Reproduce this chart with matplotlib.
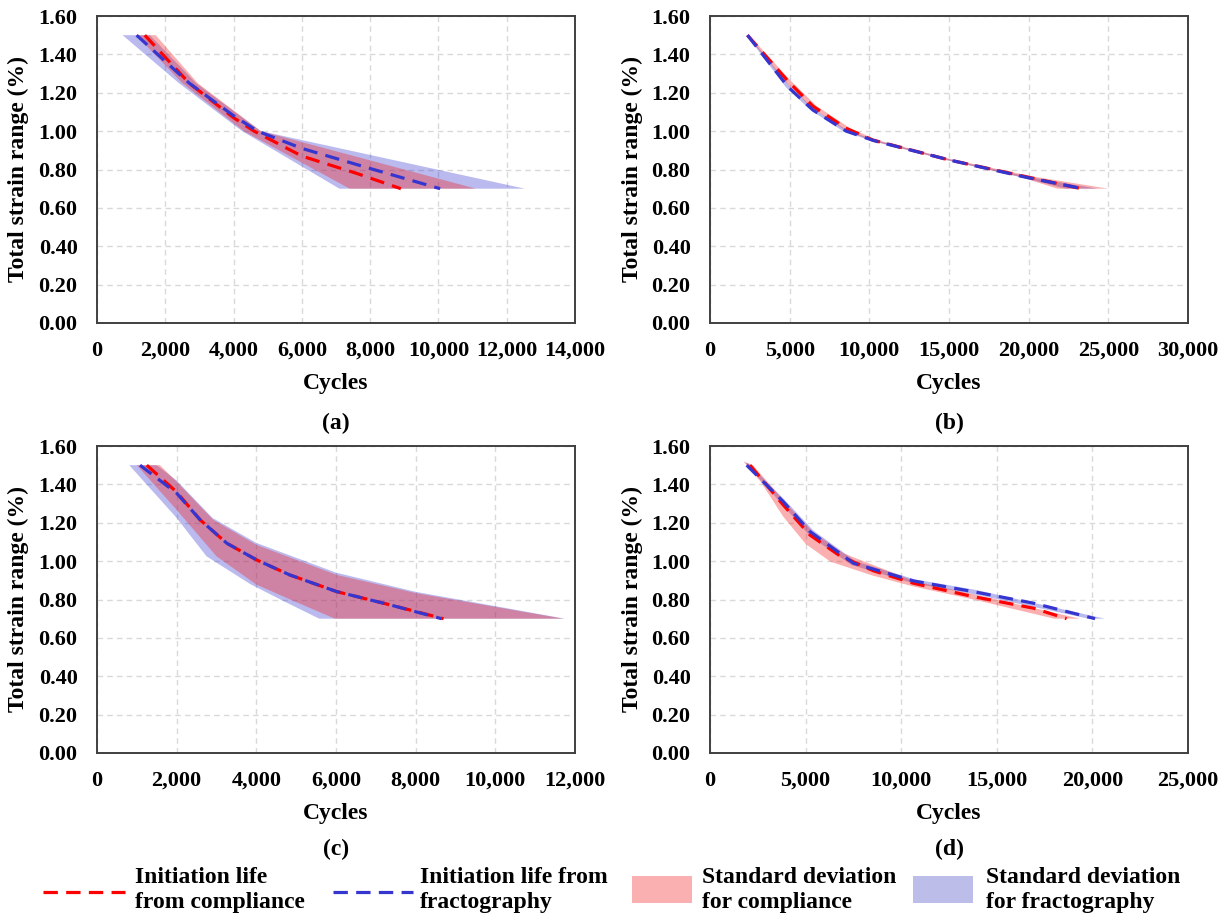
import matplotlib
matplotlib.use("Agg")
import matplotlib.pyplot as plt
import numpy as np
from matplotlib.ticker import FuncFormatter, MultipleLocator
from matplotlib.lines import Line2D
from matplotlib.patches import Rectangle

plt.rcParams["font.family"] = ["Liberation Serif", "DejaVu Serif"]
plt.rcParams["font.weight"] = "bold"

# ---------------- data: (cycles, total strain range %) ----------------
# (a)
A_RED_X = [1400, 2700, 4000, 4600, 6000, 7600, 8900]
A_RED_Y = [1.50, 1.25, 1.07, 1.00, 0.87, 0.78, 0.70]
A_BLUE_X = [1160, 2700, 4000, 4700, 6000, 8100, 10050]
A_BLUE_Y = [1.50, 1.25, 1.08, 1.00, 0.91, 0.80, 0.70]
A_PINK_LO_X = [1150, 2500, 4300, 7400]
A_PINK_LO_Y = [1.50, 1.25, 1.00, 0.70]
A_PINK_HI_X = [1720, 2950, 4800, 11100]
A_PINK_HI_Y = [1.50, 1.25, 1.00, 0.70]
A_LAV_LO_X = [750, 2400, 4250, 7100]
A_LAV_LO_Y = [1.50, 1.25, 1.00, 0.70]
A_LAV_HI_X = [1550, 2900, 4800, 12530]
A_LAV_HI_Y = [1.50, 1.25, 1.00, 0.70]

# (b)
B_RED_X = [2350, 4900, 6460, 8540, 10200, 15000, 19800, 23300]
B_RED_Y = [1.50, 1.26, 1.13, 1.015, 0.954, 0.85, 0.763, 0.70]
B_BLUE_X = [2350, 4900, 6460, 8540, 10300, 15000, 19800, 23400]
B_BLUE_Y = [1.50, 1.23, 1.11, 1.00, 0.95, 0.85, 0.76, 0.70]
B_PINK_LO_X = [2300, 4700, 6250, 8300, 10000, 14800, 19400, 21800]
B_PINK_LO_Y = [1.50, 1.26, 1.13, 1.015, 0.954, 0.85, 0.763, 0.70]
B_PINK_HI_X = [2450, 5100, 6700, 8800, 10450, 15300, 20300, 25000]
B_PINK_HI_Y = [1.50, 1.26, 1.13, 1.015, 0.954, 0.85, 0.763, 0.70]
B_LAV_LO_X = [2300, 4750, 6300, 8350, 10100, 14800, 19500, 22300]
B_LAV_LO_Y = [1.50, 1.23, 1.11, 1.00, 0.95, 0.85, 0.76, 0.70]
B_LAV_HI_X = [2400, 5050, 6600, 8700, 10500, 15200, 20100, 24300]
B_LAV_HI_Y = [1.50, 1.23, 1.11, 1.00, 0.95, 0.85, 0.76, 0.70]

# (c)
C_RED_X = [1250, 2000, 2590, 3260, 4010, 4840, 6020, 7360, 8700]
C_RED_Y = [1.50, 1.36, 1.215, 1.093, 1.006, 0.928, 0.841, 0.772, 0.70]
C_BLUE_X = [1080, 2000, 2590, 3260, 4010, 4840, 6020, 7360, 8650]
C_BLUE_Y = [1.50, 1.354, 1.215, 1.093, 1.006, 0.928, 0.841, 0.772, 0.70]
C_PINK_LO_X = [1000, 2000, 3000, 4000, 4850, 5970]
C_PINK_LO_Y = [1.50, 1.267, 1.025, 0.878, 0.80, 0.70]
C_PINK_HI_X = [1580, 2000, 2920, 4010, 6020, 8020, 11700]
C_PINK_HI_Y = [1.50, 1.414, 1.215, 1.084, 0.928, 0.833, 0.70]
C_LAV_LO_X = [810, 2000, 2750, 3850, 4700, 5580]
C_LAV_LO_Y = [1.50, 1.225, 1.025, 0.88, 0.79, 0.70]
C_LAV_HI_X = [1500, 2000, 2900, 4000, 6000, 8000, 11750]
C_LAV_HI_Y = [1.50, 1.42, 1.225, 1.095, 0.94, 0.84, 0.70]

# (d)
D_RED_X = [2090, 3830, 5230, 6800, 8540, 10630, 13770, 16910, 18650]
D_RED_Y = [1.50, 1.293, 1.136, 1.027, 0.95, 0.885, 0.815, 0.755, 0.70]
D_BLUE_X = [1920, 3830, 5230, 7500, 10630, 13770, 16910, 20140]
D_BLUE_Y = [1.50, 1.31, 1.154, 0.989, 0.897, 0.841, 0.781, 0.70]
D_PINK_LO_X = [1750, 2650, 3830, 5000, 6300, 8500, 10630, 14000, 18000]
D_PINK_LO_Y = [1.52, 1.414, 1.232, 1.09, 0.997, 0.925, 0.868, 0.795, 0.70]
D_PINK_HI_X = [1750, 2250, 3900, 5400, 7000, 10700, 13900, 19350]
D_PINK_HI_Y = [1.52, 1.50, 1.31, 1.15, 1.04, 0.895, 0.825, 0.70]
D_LAV_LO_X = [1850, 3830, 5230, 7400, 10600, 13700, 19800]
D_LAV_LO_Y = [1.51, 1.29, 1.13, 0.98, 0.885, 0.83, 0.70]
D_LAV_HI_X = [2000, 3900, 5400, 7600, 10700, 13900, 20650]
D_LAV_HI_Y = [1.51, 1.32, 1.16, 1.00, 0.905, 0.85, 0.70]

X_MAX = [14000, 30000, 12000, 25000]
X_STEP = [2000, 5000, 2000, 5000]
CAPTIONS = ["(a)", "(b)", "(c)", "(d)"]
Y_LABEL = "Total strain range (%)"
X_LABEL = "Cycles"
LEGEND_LABELS = ["Initiation life\nfrom compliance", "Initiation life from\nfractography",
                 "Standard deviation\nfor compliance", "Standard deviation\nfor fractography"]

panels = [
    (A_RED_X, A_RED_Y, A_BLUE_X, A_BLUE_Y, A_PINK_LO_X, A_PINK_LO_Y, A_PINK_HI_X, A_PINK_HI_Y,
     A_LAV_LO_X, A_LAV_LO_Y, A_LAV_HI_X, A_LAV_HI_Y),
    (B_RED_X, B_RED_Y, B_BLUE_X, B_BLUE_Y, B_PINK_LO_X, B_PINK_LO_Y, B_PINK_HI_X, B_PINK_HI_Y,
     B_LAV_LO_X, B_LAV_LO_Y, B_LAV_HI_X, B_LAV_HI_Y),
    (C_RED_X, C_RED_Y, C_BLUE_X, C_BLUE_Y, C_PINK_LO_X, C_PINK_LO_Y, C_PINK_HI_X, C_PINK_HI_Y,
     C_LAV_LO_X, C_LAV_LO_Y, C_LAV_HI_X, C_LAV_HI_Y),
    (D_RED_X, D_RED_Y, D_BLUE_X, D_BLUE_Y, D_PINK_LO_X, D_PINK_LO_Y, D_PINK_HI_X, D_PINK_HI_Y,
     D_LAV_LO_X, D_LAV_LO_Y, D_LAV_HI_X, D_LAV_HI_Y),
]

# ---------------- styling ----------------
W, H = 1231, 918
RED = "#FF0000"
BLUE = "#3535D0"
PINK = (0.95, 0.14, 0.14, 0.36)
LAV = (0.16, 0.16, 0.80, 0.32)
PINK_KEY = "#FAB0B0"
LAV_KEY = "#BDBDEA"
DASH = (4.5, 2.6)
LW = 2.3
FS_TICK = 16
FS_LABEL = 17
FS_LEG = 17

fig = plt.figure(figsize=(W / 100, H / 100), dpi=100)

# axes boxes in pixels: left, top, right, bottom
boxes = [(97, 16, 575, 323), (710, 16, 1188, 323),
         (97, 446, 575, 753), (710, 446, 1188, 753)]
ylabel_x = [18, 632, 18, 632]


def band(ax, lo_x, lo_y, hi_x, hi_y, color):
    xs = np.concatenate([lo_x, hi_x[::-1]])
    ys = np.concatenate([lo_y, hi_y[::-1]])
    ax.fill(xs, ys, color=color, lw=0, zorder=2)


for i, (box, p) in enumerate(zip(boxes, panels)):
    l, t, r, b = box
    ax = fig.add_axes([l / W, 1 - b / H, (r - l) / W, (b - t) / H])
    (rx, ry, bx, by, plx, ply, phx, phy, llx, lly, lhx, lhy) = p

    band(ax, llx, lly, lhx, lhy, LAV)
    band(ax, plx, ply, phx, phy, PINK)
    ax.plot(rx, ry, color=RED, lw=LW, dashes=DASH, zorder=4)
    ax.plot(bx, by, color=BLUE, lw=LW, dashes=DASH, zorder=5)

    ax.set_xlim(0, X_MAX[i])
    ax.set_ylim(0, 1.6)
    ax.xaxis.set_major_locator(MultipleLocator(X_STEP[i]))
    ax.yaxis.set_major_locator(MultipleLocator(0.2))
    ax.xaxis.set_major_formatter(FuncFormatter(lambda v, _: f"{int(round(v)):,}"))
    ax.yaxis.set_major_formatter(FuncFormatter(lambda v, _: f"{v:.2f}"))
    ax.tick_params(length=0, labelsize=FS_TICK)
    ax.tick_params(axis="x", pad=13)
    ax.tick_params(axis="y", pad=14)
    for lab in ax.get_xticklabels() + ax.get_yticklabels():
        lab.set_fontweight("bold")

    ax.grid(True, color="#D9D9D9", lw=1.0, linestyle=(0, (4, 3)), zorder=0)
    ax.set_axisbelow(True)
    for s in ax.spines.values():
        s.set_color("#404040")
        s.set_linewidth(1.4)

    ax.set_xlabel(X_LABEL, fontsize=FS_LABEL, fontweight="bold")
    ax.xaxis.set_label_coords(0.5, -60 / (b - t))
    ax.xaxis.label.set_va("center")
    ax.set_ylabel(Y_LABEL, fontsize=FS_LABEL, fontweight="bold")
    ax.yaxis.set_label_coords((ylabel_x[i] - l) / (r - l), 0.5)
    ax.yaxis.label.set_va("center")

    cap_y = b + 100 if i < 2 else b + 96
    fig.text(((l + r) / 2) / W, 1 - cap_y / H, CAPTIONS[i], fontsize=FS_LABEL,
             fontweight="bold", ha="center", va="center")

# ---------------- legend row ----------------
leg = fig.add_axes([0, 0, 1, 1], facecolor="none")
leg.set_xlim(0, W)
leg.set_ylim(H, 0)
leg.axis("off")

ky = 892
leg.add_line(Line2D([43, 125], [ky, ky], color=RED, lw=LW, dashes=DASH))
leg.add_line(Line2D([333, 413], [ky, ky], color=BLUE, lw=LW, dashes=DASH))
leg.add_patch(Rectangle((632, 876), 60, 27, color=PINK_KEY, lw=0))
leg.add_patch(Rectangle((913, 876), 60, 27, color=LAV_KEY, lw=0))
for x, txt in zip([135, 420, 702, 986], LEGEND_LABELS):
    leg.text(x, 890, txt, fontsize=FS_LEG, fontweight="bold", ha="left", va="center",
             linespacing=1.3)

fig.savefig("out.png", dpi=100)
